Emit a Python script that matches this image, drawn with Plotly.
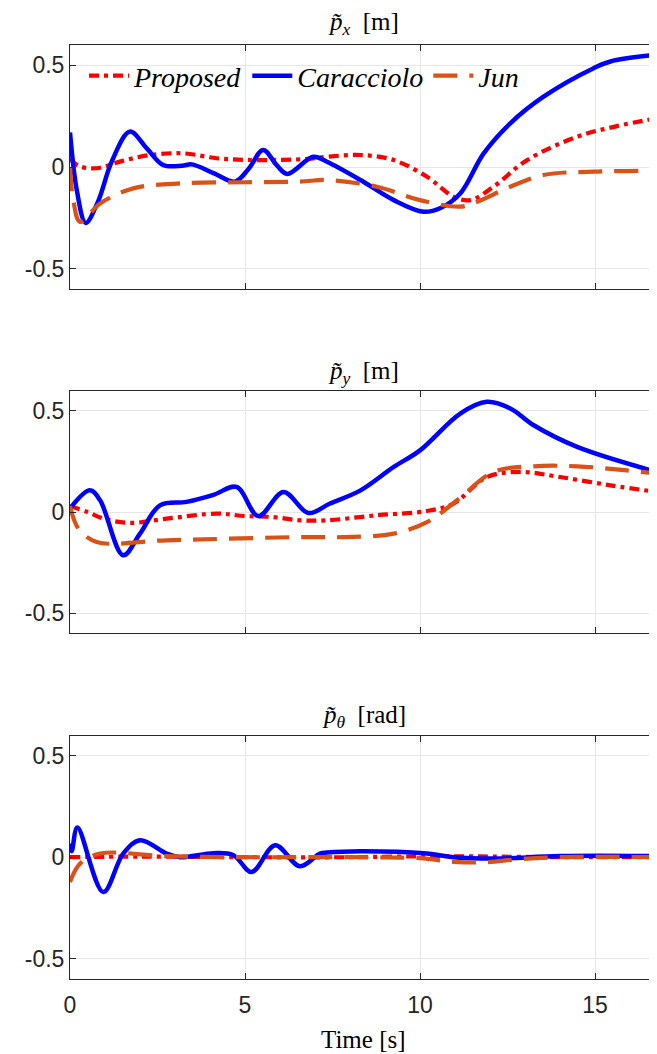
import plotly.graph_objects as go

# ---------------- data ----------------
# p_x
px_prop_t = [0, 0.25, 0.76, 1.5, 2.29, 3.24, 4.19, 5.0, 6.0, 6.8, 7.34, 8.3, 9.25, 10.2, 10.96, 11.44, 12.1, 13.06, 14.49, 15.6, 16.77]
px_prop_v = [0.04, 0.005, -0.006, 0.03, 0.059, 0.067, 0.043, 0.035, 0.035, 0.04, 0.05, 0.059, 0.034, -0.048, -0.146, -0.163, -0.097, 0.034, 0.149, 0.2, 0.24]
px_car_t = [0, 0.2, 0.45, 0.8, 1.2, 1.71, 2.2, 2.66, 3.2, 3.48, 4.1, 4.71, 5.1, 5.52, 5.9, 6.21, 6.95, 7.34, 8.3, 9.25, 10.1, 10.6, 11.15, 11.82, 12.58, 13.53, 14.96, 15.44, 16.77]
px_car_v = [0.17, -0.12, -0.275, -0.17, 0.03, 0.174, 0.09, 0.01, 0.006, 0.013, -0.03, -0.072, -0.01, 0.084, 0.01, -0.034, 0.05, 0.026, -0.064, -0.163, -0.22, -0.2, -0.13, 0.067, 0.215, 0.346, 0.486, 0.519, 0.552]
px_jun_t = [0, 0.1, 0.29, 0.86, 1.81, 3.24, 5.0, 6.57, 7.34, 8.77, 10.0, 11.15, 11.63, 12.58, 13.53, 14.96, 16.77]
px_jun_v = [0.0, -0.17, -0.27, -0.179, -0.105, -0.08, -0.075, -0.072, -0.064, -0.097, -0.163, -0.195, -0.171, -0.097, -0.039, -0.023, -0.018]

# p_y
py_prop_t = [0, 0.5, 1.0, 1.71, 2.76, 4.19, 5.0, 5.8, 6.57, 7.34, 8.77, 10.2, 10.96, 11.91, 12.87, 14.0, 15.44, 16.77]
py_prop_v = [0.03, 0.0, -0.035, -0.054, -0.033, -0.008, -0.02, -0.025, -0.041, -0.041, -0.016, 0.005, 0.042, 0.173, 0.198, 0.173, 0.132, 0.099]
py_car_t = [0, 0.57, 0.86, 1.52, 2.0, 2.57, 3.33, 4.1, 4.76, 5.38, 6.1, 6.81, 7.43, 8.3, 9.25, 10.0, 11.15, 11.91, 12.58, 13.25, 14.49, 16.77]
py_car_v = [0.017, 0.107, 0.058, -0.214, -0.107, 0.033, 0.05, 0.085, 0.124, -0.02, 0.099, -0.005, 0.042, 0.107, 0.223, 0.305, 0.487, 0.545, 0.512, 0.429, 0.322, 0.198]
py_jun_t = [0, 0.24, 0.76, 2.76, 6.57, 7.82, 9.25, 10.2, 11.06, 12.1, 13.25, 14.49, 15.91, 16.77]
py_jun_v = [0.03, -0.082, -0.148, -0.14, -0.124, -0.124, -0.107, -0.05, 0.058, 0.198, 0.226, 0.226, 0.206, 0.19]

# p_theta
pt_prop_t = [0, 2.0, 5.0, 8.0, 10.5, 12.0, 14.0, 16.77]
pt_prop_v = [0.0, 0.003, 0.0, 0.0, 0.005, 0.003, 0.0, 0.0]
pt_car_t = [0, 0.05, 0.21, 0.95, 1.52, 2.0, 2.76, 3.14, 4.1, 4.67, 5.19, 5.86, 6.57, 7.14, 7.34, 8.3, 10.2, 10.96, 12.1, 14.0, 16.77]
pt_car_v = [0.068, 0.03, 0.147, -0.172, 0.018, 0.084, 0.018, 0.0, 0.02, 0.01, -0.073, 0.059, -0.045, 0.018, 0.023, 0.03, 0.018, 0.0, -0.007, 0.006, 0.006]
pt_jun_t = [0, 0.29, 0.86, 2.76, 5.0, 8.0, 10.0, 10.96, 11.9, 12.8, 14.0, 16.77]
pt_jun_v = [-0.122, -0.031, 0.018, 0.005, 0.0, 0.0, -0.005, -0.023, -0.025, -0.01, 0.0, 0.0]

series_names = ["<i>Proposed</i>", "<i>Caracciolo</i>", "<i>Jun</i>"]
panel_titles = ["<i>p̃</i><sub><i>x</i></sub>  [m]", "<i>p̃</i><sub><i>y</i></sub>  [m]", "<i>p̃</i><sub><i>θ</i></sub>  [rad]"]
x_tick_vals = [0, 5, 10, 15]
x_tick_text = ["0", "5", "10", "15"]
y_tick_vals = [-0.5, 0, 0.5]
y_tick_text = ["-0.5", "0", "0.5"]
x_label = "Time [s]"

# ---------------- figure ----------------
OFF = 8                      # browser page margin
W, H = 657 - OFF, 1054 - OFF
L = 70 - OFF
colors = ["#FF0000", "#0000FF", "#D95319"]
dashes = ["10px,5px,4px,5px", "solid", "24px,12px"]
widths = [4.2, 4.5, 4.2]

panels = [
    [(px_prop_t, px_prop_v), (px_car_t, px_car_v), (px_jun_t, px_jun_v)],
    [(py_prop_t, py_prop_v), (py_car_t, py_car_v), (py_jun_t, py_jun_v)],
    [(pt_prop_t, pt_prop_v), (pt_car_t, pt_car_v), (pt_jun_t, pt_jun_v)],
]
# pixel extents of each plot box (top, bottom) in window pixels
boxes = [(45, 289), (390.7, 633.3), (735.7, 978.7)]
title_y = [24, 372, 716]


def py2paper(p):
    return 1 - (p - OFF) / H


fig = go.Figure()
layout = dict(
    width=W, height=H,
    margin=dict(l=L, r=0, t=0, b=0, autoexpand=False),
    paper_bgcolor="white", plot_bgcolor="white",
    showlegend=True,
)

tick_font = dict(family="Liberation Sans, Arial, sans-serif", size=23, color="#262626")
serif = "Liberation Serif, DejaVu Serif, serif"

for i, panel in enumerate(panels):
    xa = "x" if i == 0 else f"x{i+1}"
    ya = "y" if i == 0 else f"y{i+1}"
    for j, (t, v) in enumerate(panel):
        fig.add_trace(go.Scatter(
            x=t, y=v, mode="lines", name=series_names[j],
            line=dict(color=colors[j], width=widths[j], dash=dashes[j], shape="spline", smoothing=1.0),
            xaxis=xa, yaxis=ya, showlegend=(i == 0),
        ))
    top, bot = boxes[i]
    xkey = "xaxis" if i == 0 else f"xaxis{i+1}"
    ykey = "yaxis" if i == 0 else f"yaxis{i+1}"
    layout[xkey] = dict(
        domain=[0, 1], range=[0, (W - L) / 35.0], anchor=ya,
        tickmode="array", tickvals=x_tick_vals,
        ticktext=x_tick_text if i == 2 else ["", "", "", ""],
        showticklabels=(i == 2), automargin=False,
        ticks="inside", ticklen=6, tickcolor="#262626", tickwidth=1,
        showgrid=True, gridcolor="#E6E6E6", gridwidth=1,
        showline=True, linecolor="#262626", linewidth=1, mirror="ticks",
        zeroline=False, tickfont=tick_font, ticklabelstandoff=6,
    )
    layout[ykey] = dict(
        domain=[py2paper(bot), py2paper(top)], range=[-0.6, 0.6], anchor=xa,
        tickmode="array", tickvals=y_tick_vals, ticktext=y_tick_text,
        automargin=False,
        ticks="inside", ticklen=6, tickcolor="#262626", tickwidth=1,
        showgrid=True, gridcolor="#E6E6E6", gridwidth=1,
        showline=True, linecolor="#262626", linewidth=1, mirror="ticks",
        zeroline=False, tickfont=tick_font,
    )

annotations = []
for i in range(3):
    annotations.append(dict(
        text=panel_titles[i], xref="paper", yref="paper",
        x=0.5, y=py2paper(title_y[i]), xanchor="center", yanchor="middle",
        showarrow=False, font=dict(family=serif, size=25, color="black"),
    ))
annotations.append(dict(
    text=x_label, xref="paper", yref="paper",
    x=0.5, y=py2paper(1039), xanchor="center", yanchor="middle",
    showarrow=False, font=dict(family=serif, size=25, color="black"),
))
layout["annotations"] = annotations
layout["legend"] = dict(
    orientation="h", x=(84 - 70) / (W - L), y=py2paper(76),
    xanchor="left", yanchor="middle",
    bgcolor="rgba(255,255,255,0)", borderwidth=0,
    font=dict(family=serif, size=28, color="black"),
    itemwidth=40, tracegroupgap=0,
)
fig.update_layout(**layout)
fig.write_html("out.html")
